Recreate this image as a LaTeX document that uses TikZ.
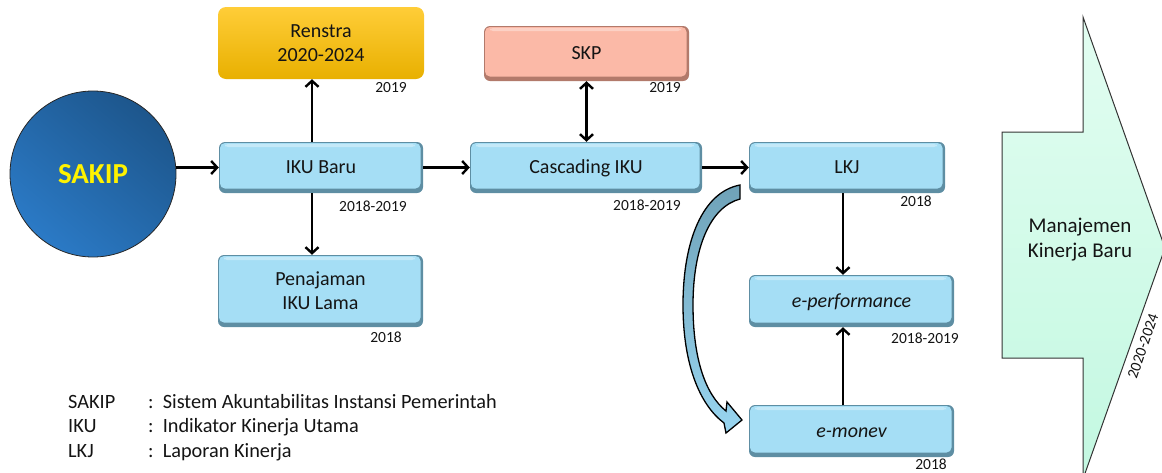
\documentclass[tikz,border=0pt]{standalone}
\usepackage{fontspec}
\setmainfont{Carlito}
\usetikzlibrary{arrows.meta,calc}

\definecolor{txt}{HTML}{141414}
\definecolor{bluefill}{HTML}{A5DEF5}
\definecolor{bluerim}{HTML}{5E8EA3}
\definecolor{skpfill}{HTML}{FBB9A7}
\definecolor{skprim}{HTML}{B27A6B}
\definecolor{goldtop}{HTML}{FFCD38}
\definecolor{goldbot}{HTML}{E8B000}
\definecolor{sakiplight}{HTML}{2B7AC6}
\definecolor{sakipdark}{HTML}{1D568C}
\definecolor{minttop}{HTML}{E2FDF1}
\definecolor{mintbot}{HTML}{C3F8E1}
\definecolor{curvetop}{HTML}{6FA2B8}
\definecolor{curvebot}{HTML}{98D5F0}

\tikzset{
  boxtext/.style={font=\fontsize{20}{24}\selectfont, text=txt, align=center},
  oneline/.style={text height=12.8pt, text depth=0pt},
  bevelbox/.style 2 args={boxtext, inner sep=0pt, rounded corners=6pt, fill=#2,
    path picture={
      \fill[#1, rounded corners=5pt]
        ($(path picture bounding box.north west)+(1,1)$) rectangle
        ($(path picture bounding box.south east)+(-2.5,-4.5)$);
      \fill[white, opacity=0.35, rounded corners=3pt]
        ($(path picture bounding box.north west)+(6,2)$) rectangle
        ($(path picture bounding box.north east)+(-8,5)$);
    }},
  bluebox/.style={bevelbox={bluefill}{bluerim}},
  salmonbox/.style={bevelbox={skpfill}{skprim}},
  goldbox/.style={boxtext, inner sep=0pt, rounded corners=8pt,
    top color=goldtop, bottom color=goldbot},
  year/.style={font=\fontsize{15.5}{18}\selectfont, text=txt, inner sep=0pt, anchor=east},
  legend/.style={font=\fontsize{20.3}{23}\selectfont, text=txt, inner sep=0pt, anchor=base west},
  flow/.style={line width=2.4pt, -{Straight Barb[length=6pt,width=13pt]}},
  both/.style={line width=2.4pt, {Straight Barb[length=6pt,width=13pt]}-{Straight Barb[length=6pt,width=13pt]}},
}

\begin{document}
\begin{tikzpicture}[x=1pt,y=-1pt]
  \useasboundingbox (0,0) rectangle (1162,472);
  \clip (0,0) rectangle (1162,472);

  % start circle
  \node[circle, draw=black!85, line width=0.8pt, minimum size=166pt, inner sep=0pt,
        top color=sakipdark, bottom color=sakiplight, shading angle=-40,
        font=\fontsize{29}{32}\bfseries, text=yellow] (sakip) at (93,174) {SAKIP};

  % process boxes
  \node[goldbox, minimum width=206pt, minimum height=72pt] (renstra) at (321,43) {Renstra\\2020-2024};
  \node[bluebox, oneline, minimum width=204pt, minimum height=51pt] (iku) at (321,167.5) {IKU Baru};
  \node[bluebox, minimum width=205pt, minimum height=72pt] (lama) at (320.5,291) {Penajaman\\IKU Lama};
  \node[salmonbox, oneline, minimum width=205pt, minimum height=55pt] (skp) at (586.5,53.5) {SKP};
  \node[bluebox, oneline, minimum width=232pt, minimum height=51pt] (casc) at (586,167.5) {Cascading IKU};
  \node[bluebox, oneline, minimum width=196pt, minimum height=51pt] (lkj) at (847,167.5) {LKJ};
  \node[bluebox, oneline, minimum width=205pt, minimum height=52pt] (eperf) at (851.5,301) {\itshape e-performance};
  \node[bluebox, oneline, minimum width=205pt, minimum height=52pt] (emonev) at (851.5,431) {\itshape e-monev};

  % years
  \node[year] (y1) at (407,88) {2019};
  \node[year] (y2) at (407,206) {2018-2019};
  \node[year] (y3) at (402,337) {2018};
  \node[year] (y4) at (681,88) {2019};
  \node[year] (y5) at (681,205) {2018-2019};
  \node[year] (y6) at (932,201) {2018};
  \node[year] (y7) at (959,338) {2018-2019};
  \node[year] (y8) at (947,464) {2018};

  % connectors
  \coordinate (ikux) at (312,0);
  \coordinate (lkjx) at (843,0);
  \draw[flow] (sakip.east |- iku.west) -- (iku.west);
  \draw[flow] (iku.north -| ikux) -- (renstra.south -| ikux);
  \draw[flow] (iku.south -| ikux) -- (lama.north -| ikux);
  \draw[flow] (iku.east) -- (casc.west);
  \draw[both] (skp.south) -- (skp.south |- casc.north);
  \draw[flow] (casc.east) -- (lkj.west);
  \draw[flow] (lkj.south -| lkjx) -- (eperf.north -| lkjx);
  \draw[flow] (emonev.north -| lkjx) -- (eperf.south -| lkjx);

  % curved block arrow from LKJ down to e-monev
  \path[draw=black, line width=1.3pt, line join=miter, top color=curvetop, bottom color=curvebot]
    (740,185) .. controls (703,192) and (683,240) .. (683,305)
    .. controls (683,365) and (700,405) .. (724,423)
    -- (726,433) -- (742,420) -- (727,402) -- (726,411)
    .. controls (706,395) and (693,360) .. (693,305)
    .. controls (693,248) and (710,207) .. (740,199) -- cycle;

  % big arrow on the right
  \path[draw=black!80, line width=1pt, top color=minttop, bottom color=mintbot]
    (1002,132) -- (1083,132) -- (1083,17) -- (1165,248) -- (1083,479)
    -- (1083,358) -- (1002,358) -- cycle;
  \node[font=\fontsize{21}{25}\selectfont, text=txt, align=center, inner sep=0pt] (mkb) at (1080,240) {Manajemen\\Kinerja Baru};
  \node[font=\fontsize{15.5}{18}\selectfont, text=txt, inner sep=0pt, rotate=71] (period) at (1143,346) {2020-2024};

  % abbreviations
  \node[legend] (l1) at (68,408) {SAKIP};
  \node[legend] (l2) at (68,432.5) {IKU};
  \node[legend] (l3) at (68,457) {LKJ};
  \node[legend] (d1) at (148,408) {:\ \ Sistem Akuntabilitas Instansi Pemerintah};
  \node[legend] (d2) at (148,432.5) {:\ \ Indikator Kinerja Utama};
  \node[legend] (d3) at (148,457) {:\ \ Laporan Kinerja};
\end{tikzpicture}
\end{document}
